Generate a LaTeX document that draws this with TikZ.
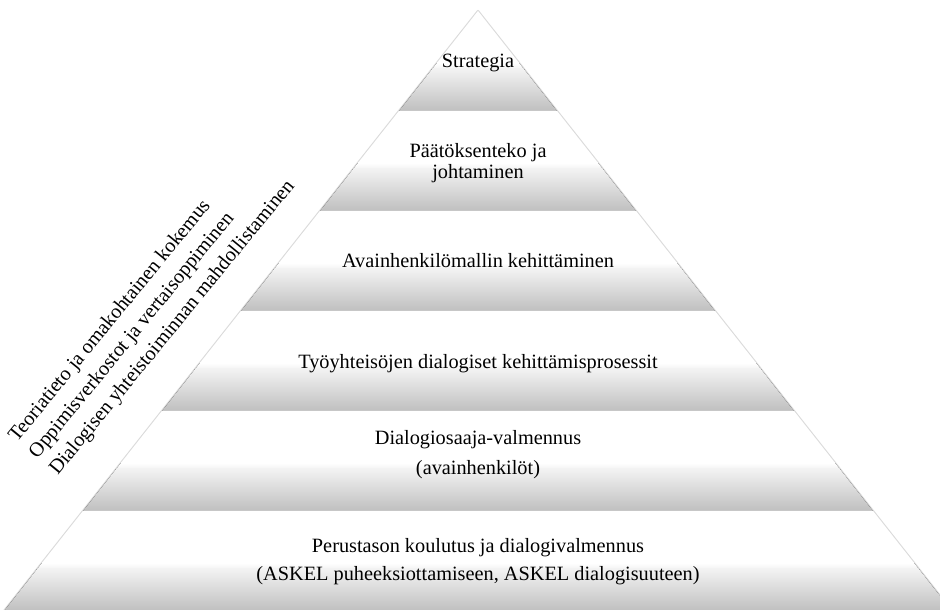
\documentclass[tikz,border=0pt]{standalone}
\usepackage{fontspec}
\setmainfont{Liberation Serif}
\begin{document}
\begin{tikzpicture}[x=1pt,y=1pt,
  layer text/.style={font=\fontsize{20.3}{20.3}\selectfont, text=black, inner sep=0pt, anchor=base},
  side text/.style={font=\fontsize{20.3}{20.3}\selectfont, text=black, inner sep=0pt, anchor=base west, rotate=50.7},
  edge shadow/.style={draw=black!14, line width=2.2pt, line join=round},
  fade band/.style={top color=white, bottom color=black!5},
  shade band/.style={top color=black!5, bottom color=black!25},
]
\useasboundingbox (0,0) rectangle (940,610);
\begin{scope}
  \clip (0,0) rectangle (940,610);
  % a soft grey rim along the slanted sides
  \coordinate (apex) at (478,599);
  \coordinate (baseL) at (478-474,-1);
  \coordinate (baseR) at (478+474,-1);
  \draw[edge shadow] (baseL) -- (apex) -- (baseR);
  % six stacked slices, each white above and shaded grey below
  \foreach \i in {0,...,5}{
    \pgfmathsetmacro{\yt}{599-100*\i}
    \pgfmathsetmacro{\yb}{\yt-100}
    \pgfmathsetmacro{\wt}{79*\i}
    \pgfmathsetmacro{\wb}{79*(\i+1)}
    \pgfmathsetmacro{\ya}{\yt-52}
    \pgfmathsetmacro{\yc}{\yt-58}
    \coordinate (tl\i) at (478-\wt,\yt);
    \coordinate (tr\i) at (478+\wt,\yt);
    \coordinate (bl\i) at (478-\wb,\yb);
    \coordinate (br\i) at (478+\wb,\yb);
    \begin{scope}
      \clip (tl\i) -- (tr\i) -- (br\i) -- (bl\i) -- cycle;
      \fill[white] (0,\yb-1) rectangle (960,\yt+1);
      \fill[fade band] (0,\yc-0.6) rectangle (960,\ya);
      \fill[shade band] (0,\yb) rectangle (960,\yc);
    \end{scope}
  }
\end{scope}

% slice labels
\node[layer text] (strategia) at (478,610-67.3) {Strategia};
\node[layer text] (paatos1) at (478,610-157.7) {Päätöksenteko ja};
\node[layer text] (paatos2) at (478,610-178.3) {johtaminen};
\node[layer text] (avain) at (478,610-267.5) {Avainhenkilömallin kehittäminen};
\node[layer text] (tyoyht) at (478,610-368.3) {Työyhteisöjen dialogiset kehittämisprosessit};
\node[layer text] (dialogi1) at (478,610-444.5) {Dialogiosaaja-valmennus};
\node[layer text] (dialogi2) at (478,610-474.3) {(avainhenkilöt)};
\node[layer text] (perus1) at (478,610-553) {Perustason koulutus ja dialogivalmennus};
\node[layer text] (perus2) at (478,610-581) {(ASKEL puheeksiottamiseen, ASKEL dialogisuuteen)};

% slanted notes along the left side
\node[side text] (teoria) at (17.0,610-442.8) {Teoriatieto ja omakohtainen kokemus};
\node[side text] (oppimis) at (37.3,610-459.4) {Oppimisverkostot ja vertaisoppiminen};
\node[side text] (dialogisen) at (57.7,610-476.1) {Dialogisen yhteistoiminnan mahdollistaminen};
\end{tikzpicture}
\end{document}
